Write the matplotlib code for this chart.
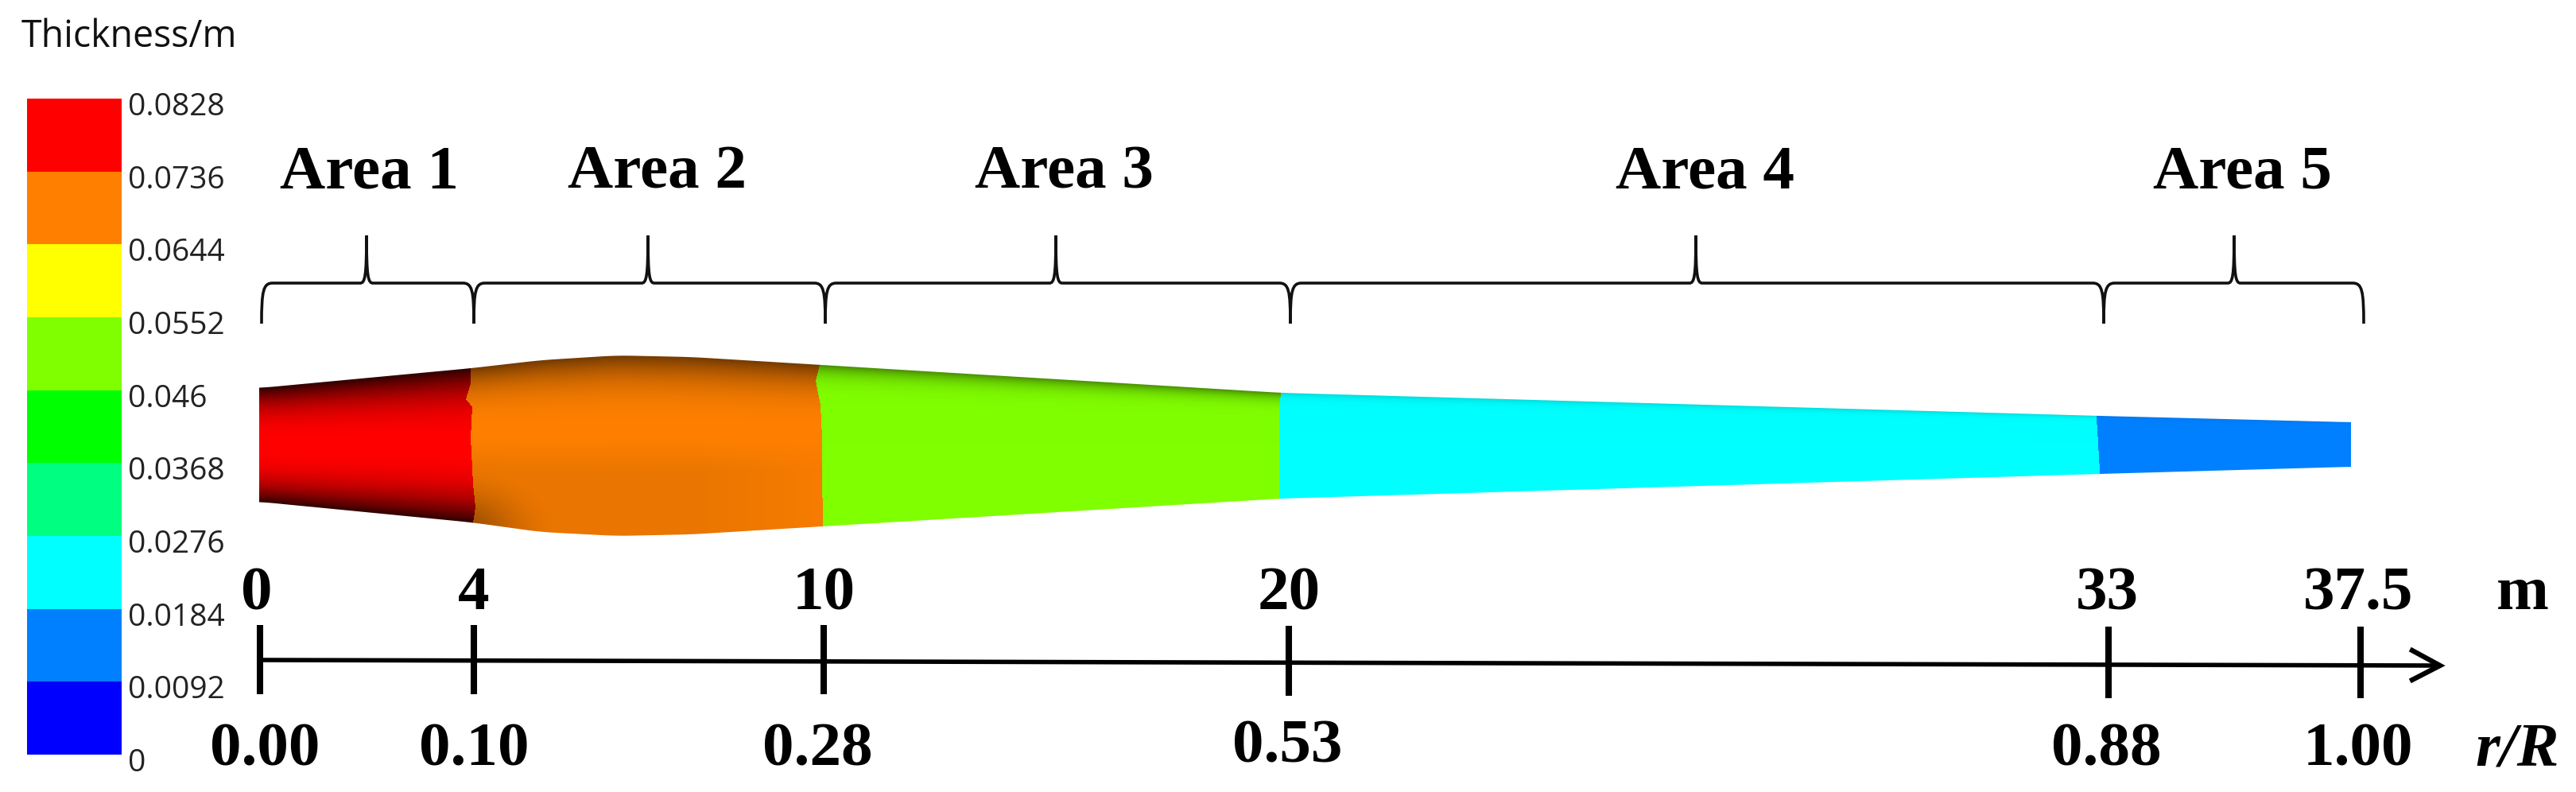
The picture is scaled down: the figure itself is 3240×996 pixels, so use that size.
import numpy as np
import matplotlib
matplotlib.use("Agg")
import matplotlib.pyplot as plt
from matplotlib.colors import ListedColormap, BoundaryNorm, to_rgb
from matplotlib.path import Path
from matplotlib.patches import PathPatch

# ---- data ----
legend_title = "Thickness/m"
levels = [0, 0.0092, 0.0184, 0.0276, 0.0368, 0.046, 0.0552, 0.0644, 0.0736, 0.0828]
level_labels = ["0", "0.0092", "0.0184", "0.0276", "0.0368", "0.046",
                "0.0552", "0.0644", "0.0736", "0.0828"]
level_colors = ["#0000ff", "#0080ff", "#00ffff", "#00ff80", "#00ff00",
                "#80ff00", "#ffff00", "#ff8000", "#ff0000"]
area_names = ["Area 1", "Area 2", "Area 3", "Area 4", "Area 5"]
area_thickness = [0.0782, 0.0690, 0.0506, 0.0230, 0.0138]
metre_labels = ["0", "4", "10", "20", "33", "37.5"]
ratio_labels = ["0.00", "0.10", "0.28", "0.53", "0.88", "1.00"]

# blade outline (pixel frame of the schematic)
blade_x = [326, 593, 680, 776, 870, 1034, 1611, 2641, 2957]
blade_top = [488, 463, 453, 447, 449, 459, 494, 523, 531]
blade_bot = [631, 657, 669, 674, 672, 662, 627, 596, 587]
seam_frac = [0.0, 0.1, 0.2, 0.25, 0.45, 0.75, 0.9, 1.0]
seam_12 = [592, 592, 586, 594, 592, 595, 598, 595]
seam_23 = [1031, 1026, 1030, 1032, 1034, 1034, 1035, 1035]
seam_34 = [1611, 1610, 1609, 1609, 1609, 1609, 1609, 1609]
seam_45 = [2637, 2637, 2638, 2638, 2639, 2640, 2641, 2641]

# ---- layout ----
W, H = 3241, 996
tick_x = [327, 596, 1036, 1621, 2652, 2969]
tick_y = [(786, 873), (786, 873), (786, 873), (787, 875), (788, 878), (788, 878)]
metre_x = [323, 596, 1036, 1621, 2650, 2966]
ratio_x = [333, 596, 1028, 1619, 2649, 2966]
ratio_base = [962, 962, 962, 958, 962, 962]
brace_ends = [329, 596, 1038, 1623, 2646, 2973]
brace_tips = [461, 815, 1328, 2133, 2810]
label_cx = [465, 827, 1338, 2145, 2820]

fig = plt.figure(figsize=(W / 100, H / 100), dpi=100, facecolor="white")
ax = fig.add_axes([0, 0, 1, 1])
ax.set_xlim(0, W)
ax.set_ylim(H, 0)
ax.axis("off")

serif = "Liberation Serif"

# colour bar
cb_l, cb_r, cb_t, cb_b = 34, 153, 124, 949
cax = fig.add_axes([cb_l / W, 1 - cb_b / H, (cb_r - cb_l) / W, (cb_b - cb_t) / H])
cmap = ListedColormap(level_colors)
norm = BoundaryNorm(levels, cmap.N)
cax.pcolormesh([0, 1], levels, np.array(levels[:-1])[:, None] + 1e-6, cmap=cmap, norm=norm)
cax.axis("off")
for v, lab in zip(levels, level_labels):
    cax.annotate(lab, xy=(1, v), xycoords=("axes fraction", "data"),
                 xytext=(6, -8), textcoords="offset points", ha="left", va="center",
                 fontsize=28, family="Open Sans", color="#222222", annotation_clip=False)
ax.text(27, 46, legend_title, fontsize=33.5, family="Open Sans", color="#111111",
        ha="left", va="center")

# blade
x0, x1, y0, y1 = 320, 2965, 436, 684
xs = np.arange(x0, x1) + 0.5
ys = np.arange(y0, y1) + 0.5
X, Y = np.meshgrid(xs, ys)
top = np.interp(xs, blade_x, blade_top)
bot = np.interp(xs, blade_x, blade_bot)
# gentle smoothing of the outline across the bulge
kernel = np.ones(41) / 41
pad = 20
top = np.convolve(np.pad(top, pad, mode="edge"), kernel, "valid")
bot = np.convolve(np.pad(bot, pad, mode="edge"), kernel, "valid")
T = top[None, :]
B = bot[None, :]
frac = (Y - T) / (B - T)
cl = np.clip(frac, 0, 1)
seams = [np.interp(cl, seam_frac, s) for s in (seam_12, seam_23, seam_34, seam_45)]
idx = sum((X > s).astype(int) for s in seams)
area_rgb = np.array([to_rgb(cmap(norm(v))) for v in area_thickness])
rgb = area_rgb[idx]
s_both = np.abs(2 * cl - 1)
s_top = np.clip(1 - 2 * cl, 0, 1)
s = np.where(idx == 0, s_both, s_top)
edge = [0.82, 0.55, 0.45, 0.15, 0.08]
power = [2.6, 3.5, 8.0, 14.0, 16.0]
shade = 1 - np.array(edge)[idx] * s ** np.array(power)[idx]
lower = np.clip((cl - 0.45) / 0.2, 0, 1) * 0.08 * np.clip((1034 - X) / 250 + 0.4, 0.35, 1)
shade = shade * np.where(idx == 1, 1 - lower, 1)
corner = np.clip(1 - np.hypot((X - 590) / 110, (cl - 1) / 0.35), 0, 1) ** 1.5 * 0.35
shade = shade * np.where(idx == 1, 1 - corner, 1)
rgb = rgb * shade[..., None]
alpha = np.clip(np.minimum(Y - T, B - Y) + 0.5, 0, 1)
alpha = alpha * np.clip(2957 - X + 0.5, 0, 1) * np.clip(X - 326 + 0.5, 0, 1)
ax.imshow(np.dstack([rgb, alpha]), extent=(x0, x1, y1, y0), aspect="auto",
          interpolation="bilinear", zorder=2)
ax.set_xlim(0, W)
ax.set_ylim(H, 0)

# braces
def brace(xa, xt, xb, ytip=296, yh=356, yend=407, r=14):
    verts = [(xa, yend), (xa, yh + 10), (xa + 2, yh), (xa + r, yh),
             (xt - 8, yh),
             (xt - 2, yh), (xt, yh - 8), (xt, ytip),
             (xt, yh - 8), (xt + 2, yh), (xt + 8, yh),
             (xb - r, yh),
             (xb - 2, yh), (xb, yh + 10), (xb, yend)]
    codes = [Path.MOVETO, Path.CURVE4, Path.CURVE4, Path.CURVE4,
             Path.LINETO,
             Path.CURVE4, Path.CURVE4, Path.CURVE4,
             Path.CURVE4, Path.CURVE4, Path.CURVE4,
             Path.LINETO,
             Path.CURVE4, Path.CURVE4, Path.CURVE4]
    ax.add_patch(PathPatch(Path(verts, codes), fc="none", ec="#111111", lw=2.6, zorder=3))

for i, name in enumerate(area_names):
    brace(brace_ends[i], brace_tips[i], brace_ends[i + 1])
    ax.text(label_cx[i], 218, name, family=serif, weight="bold", fontsize=57,
            ha="center", va="center", color="black")

# radial axis
ax_x0, ax_y0, ax_x1, ax_y1 = 327, 830, 3068, 837
ax.plot([ax_x0, ax_x1], [ax_y0, ax_y1], color="black", lw=4.0, solid_capstyle="butt", zorder=3)
ax.plot([3034, 3069, 3034], [818, 837, 855], color="black", lw=4.5, zorder=3,
        solid_joinstyle="miter")
for x, (ya, yb) in zip(tick_x, tick_y):
    ax.plot([x, x], [ya, yb], color="black", lw=5.8, solid_capstyle="butt", zorder=4)
for x, lab in zip(metre_x, metre_labels):
    ax.text(x, 766, lab, family=serif, weight="bold", fontsize=57, ha="center", va="baseline")
for x, y, lab in zip(ratio_x, ratio_base, ratio_labels):
    ax.text(x, y, lab, family=serif, weight="bold", fontsize=57, ha="center", va="baseline")
ax.text(3173, 766, "m", family=serif, weight="bold", fontsize=57, ha="center", va="baseline")
ax.text(3166, 962, "r/R", family=serif, weight="bold", style="italic", fontsize=57,
        ha="center", va="baseline")

fig.savefig("out.png", dpi=100, facecolor="white")
